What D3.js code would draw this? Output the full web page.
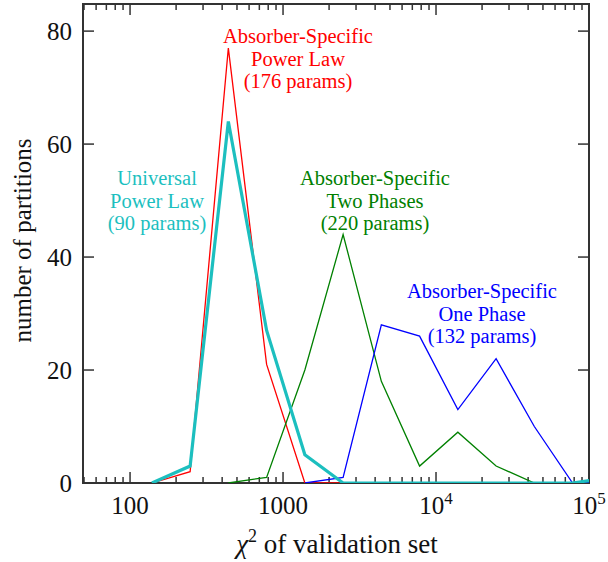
<!DOCTYPE html>
<html><head><meta charset="utf-8">
<script src="https://cdn.jsdelivr.net/npm/d3@7"></script>
<style>html,body{margin:0;padding:0;background:#fff;}svg{display:block;font-family:"Liberation Serif","Times New Roman",serif;}</style>
</head><body>
<svg id="c" width="608" height="562"></svg>
<script>
// ---- data ----
const chi2Bins = [139, 247, 439, 781, 1389, 2470, 4392, 7810, 13890, 24700, 43920, 78100, 138900];
const powerLawSpecific = [0, 2, 77, 21, 0, 0, 0, 0, 0, 0, 0, 0, 0];
const twoPhases       = [null, null, 0, 1, 20, 44, 18, 3, 9, 3, 0, 0, 0];
const onePhase        = [null, null, null, null, 0, 1, 28, 26, 13, 22, 10, 0, 0];
const universalPowerLaw = [0, 3, 64, 27, 5, 0, 0, 0, 0, 0, 0, 0, 1];
const xMajorTicks = [100, 1000, 10000, 100000];
const xTickLabels = [["100", null], ["1000", null], ["10", "4"], ["10", "5"]];
const yTicks = [0, 20, 40, 60, 80];
const seriesNames = ["Absorber-Specific Power Law", "Absorber-Specific Two Phases", "Absorber-Specific One Phase", "Universal Power Law"];
const annotations = [
  {lines: ["Absorber-Specific", "Power Law", "(176 params)"], color: "#ff0000", x: 298, y: 43},
  {lines: ["Universal", "Power Law", "(90 params)"], color: "#1cbfbf", x: 157, y: 185},
  {lines: ["Absorber-Specific", "Two Phases", "(220 params)"], color: "#008000", x: 375, y: 185},
  {lines: ["Absorber-Specific", "One Phase", "(132 params)"], color: "#0000ff", x: 482, y: 298}
];

// ---- layout ----
const L = 83, R = 589, T = 4, B = 483;
const svg = d3.select("#c");
const x = d3.scaleLog().domain([50, 100000]).range([L + 1, R]);
const y = d3.scaleLinear().domain([0, 84.8]).range([B, T]);
const axisColor = "#333";

svg.append("defs").append("clipPath").attr("id", "clip")
  .append("rect").attr("x", L).attr("y", T).attr("width", R - L).attr("height", B - T);

// frame
svg.append("rect").attr("x", L).attr("y", T).attr("width", R - L).attr("height", B - T)
  .attr("fill", "none").attr("stroke", axisColor).attr("stroke-width", 2);

// x ticks (major and minor), bottom and top
const minor = [];
for (let d = 10; d <= 10000; d *= 10) for (let k = 2; k <= 9; k++) { const v = k * d; if (v >= 50 && v < 100000) minor.push(v); }
const tg = svg.append("g").attr("stroke", axisColor).attr("stroke-width", 1.5);
minor.forEach(v => {
  tg.append("line").attr("x1", x(v)).attr("x2", x(v)).attr("y1", B).attr("y2", B - 6);
  tg.append("line").attr("x1", x(v)).attr("x2", x(v)).attr("y1", T).attr("y2", T + 6);
});
xMajorTicks.forEach(v => {
  tg.append("line").attr("x1", x(v)).attr("x2", x(v)).attr("y1", B).attr("y2", B - 11);
  tg.append("line").attr("x1", x(v)).attr("x2", x(v)).attr("y1", T).attr("y2", T + 11);
});
yTicks.forEach(v => {
  tg.append("line").attr("x1", L).attr("x2", L + 11).attr("y1", y(v)).attr("y2", y(v));
  tg.append("line").attr("x1", R).attr("x2", R - 11).attr("y1", y(v)).attr("y2", y(v));
});

// tick labels
xMajorTicks.forEach((v, i) => {
  const t = svg.append("text").attr("x", x(v)).attr("y", 514).attr("text-anchor", "middle")
    .attr("font-size", 25).attr("fill", "#111");
  t.append("tspan").text(xTickLabels[i][0]);
  if (xTickLabels[i][1]) t.append("tspan").attr("font-size", 17).attr("dy", -10).text(xTickLabels[i][1]);
});
yTicks.forEach(v => {
  svg.append("text").attr("x", 72).attr("y", y(v) + 9).attr("text-anchor", "end")
    .attr("font-size", 25).attr("fill", "#111").text(v);
});

// axis titles
const xt = svg.append("text").attr("x", 337).attr("y", 553).attr("text-anchor", "middle")
  .attr("font-size", 27).attr("fill", "#111");
xt.append("tspan").attr("font-style", "italic").text("χ");
xt.append("tspan").attr("font-size", 18).attr("dy", -11).text("2");
xt.append("tspan").attr("dy", 11).text(" of validation set");
svg.append("text").attr("transform", `translate(31,${(T + B) / 2 - 3}) rotate(-90)`)
  .attr("text-anchor", "middle").attr("font-size", 25).attr("fill", "#111").text("number of partitions");

// series
const series = [
  {name: seriesNames[0], vals: powerLawSpecific, color: "#ff0000", w: 1.3},
  {name: seriesNames[1], vals: twoPhases, color: "#008000", w: 1.3},
  {name: seriesNames[2], vals: onePhase, color: "#0000ff", w: 1.3},
  {name: seriesNames[3], vals: universalPowerLaw, color: "#1cbfbf", w: 3.2}
];
const line = d3.line().defined(d => d[1] !== null).x(d => x(d[0])).y(d => y(d[1]));
const lg = svg.append("g").attr("clip-path", "url(#clip)");
series.forEach(s => {
  lg.append("path").datum(chi2Bins.map((c, i) => [c, s.vals[i]]))
    .attr("d", line).attr("fill", "none").attr("stroke", s.color)
    .attr("stroke-width", s.w).attr("stroke-linejoin", "miter");
});

// annotations
annotations.forEach(a => {
  const t = svg.append("text").attr("text-anchor", "middle").attr("font-size", 20.5).attr("fill", a.color);
  a.lines.forEach((ln, i) => t.append("tspan").attr("x", a.x).attr("y", a.y + i * 22.5).text(ln));
});
</script>
</body></html>
